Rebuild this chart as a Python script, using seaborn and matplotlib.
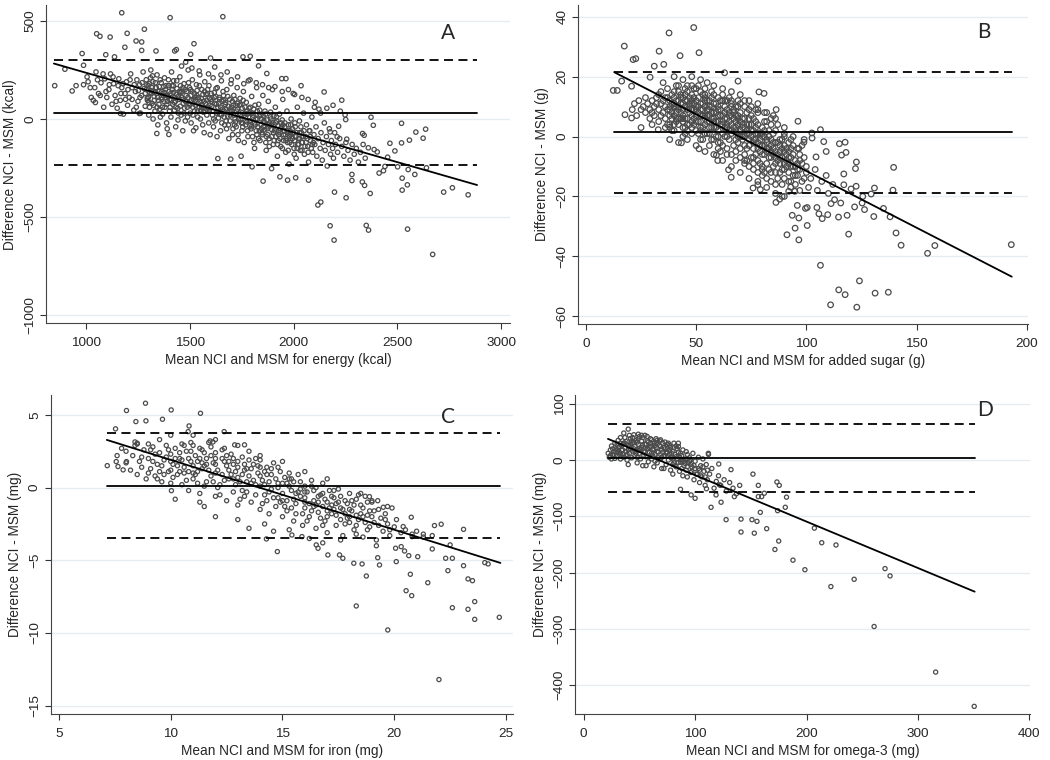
import matplotlib
matplotlib.use("Agg")
import pandas as pd
import matplotlib.pyplot as plt
import seaborn as sns

sns.set_theme(style="white")
plt.rcParams['font.family'] = ['Liberation Sans', 'DejaVu Sans']

# %% data (mean of NCI and MSM, difference NCI - MSM)

# A: energy (kcal)
energy_pts = [
    (1172, 542), (1405, 517), (1659, 522), (1051, 435), (1067, 422), (1116, 418), (1198, 437),
    (1281, 458), (1241, 398), (1268, 393), (1520, 384), (1187, 366), (981, 334), (1095, 328),
    (1268, 350), (1337, 347), (1427, 347), (1435, 354), (1137, 317), (1504, 330), (1600, 311),
    (1756, 317), (1791, 320), (1831, 271), (1871, 232), (1943, 206), (1963, 206), (2036, 170),
    (849, 170), (898, 254), (988, 274), (952, 170), (988, 175), (933, 143), (1045, 84), (1166, 28),
    (1257, 28), (1341, -74), (1399, -79), (1635, -202), (1697, -205), (1747, -190), (1800, -244),
    (1853, -317), (1894, -253), (1934, -295), (1971, -312), (2010, -300), (2072, -312), (2104, 85),
    (2147, 138), (2232, 96), (2248, 21), (2251, -3), (2373, 9), (2384, -32), (2520, -22),
    (2589, -67), (2636, -52), (2624, -98), (2558, -108), (2520, -122), (2464, -124), (2488, -163),
    (2453, -195), (2403, -168), (2388, -156), (2360, -147), (2412, -276), (2433, -264),
    (2440, -242), (2501, -244), (2523, -302), (2552, -258), (2584, -283), (2640, -249),
    (2281, -283), (2281, -314), (2331, -321), (2342, -339), (2369, -380), (2523, -363),
    (2548, -336), (2723, -373), (2765, -351), (2841, -387), (2197, -373), (2253, -402),
    (2117, -439), (2131, -424), (2176, -545), (2195, -618), (2350, -543), (2361, -567),
    (2549, -562), (2670, -691), (2332, -74), (2340, -83), (2256, -103), (2210, -91), (2176, -66),
    (2217, -37),
    (1005, 215), (1020, 160), (1035, 95), (1048, 240), (1060, 130), (1072, 185), (1085, 60),
    (1090, 205), (1100, 110), (1110, 150), (1118, 230), (1125, 75), (1133, 180), (1140, 120),
    (1150, 55), (1158, 205), (1165, 95), (1172, 160), (1180, 25), (1188, 130), (1195, 190),
    (1200, 70), (1208, 110), (1215, 230), (1222, 160), (1230, 45), (1238, 140), (1245, 200),
    (1250, 90), (1258, 175), (1262, 30), (1268, 120), (1275, 240), (1280, 155), (1285, 65),
    (1290, 200), (1295, 105), (1300, 170), (1302, 20), (1308, 135), (1312, 250), (1318, 80),
    (1322, 190), (1328, 115), (1332, 40), (1338, 160), (1342, 225), (1348, 95), (1352, 140),
    (1358, 10), (1362, 185), (1368, 60), (1372, 120), (1378, 210), (1382, 150), (1388, -20),
    (1392, 90), (1398, 170), (1402, 40), (1408, 130), (1412, 240), (1418, 75), (1422, 195),
    (1428, 110), (1432, -40), (1438, 155), (1442, 55), (1448, 100), (1452, 215), (1458, 20),
    (1462, 140), (1468, 80), (1472, 180), (1478, -10), (1482, 120), (1488, 60), (1492, 250),
    (1498, 160), (1502, 30), (1508, 95), (1512, 200), (1518, -60), (1522, 130), (1528, 70),
    (1532, 175), (1538, 10), (1542, 110), (1548, 225), (1552, 45), (1558, 150), (1562, -30),
    (1568, 90), (1572, 190), (1578, 125), (1582, 20), (1588, 60), (1592, 170), (1598, -80),
    (1602, 100), (1608, 40), (1612, 210), (1618, 135), (1622, -10), (1628, 75), (1632, 160),
    (1638, 5), (1642, 110), (1648, -60), (1652, 195), (1658, 50), (1662, 120), (1668, -30),
    (1672, 85), (1678, 150), (1682, 15), (1688, -100), (1692, 100), (1698, 180), (1702, 40),
    (1708, -50), (1712, 120), (1718, 0), (1722, 70), (1728, 160), (1732, -80), (1738, 30),
    (1742, 105), (1748, -20), (1752, 55), (1758, 140), (1762, -120), (1768, 10), (1772, 85),
    (1778, -60), (1782, 195), (1788, 30), (1792, -10), (1798, 115), (1802, -90), (1808, 50),
    (1812, -150), (1818, 0), (1822, 160), (1828, -40), (1832, 75), (1838, -110), (1842, 20),
    (1848, -70), (1852, 120), (1858, -20), (1862, 40), (1868, -160), (1872, -50), (1878, 90),
    (1882, -100), (1888, 10), (1892, -30), (1898, 150), (1902, -130), (1908, -60), (1912, 60),
    (1918, -10), (1922, -190), (1928, -80), (1932, 25), (1938, -140), (1942, -40), (1948, 100),
    (1952, -110), (1958, -20), (1962, -170), (1968, 40), (1972, -70), (1978, -230), (1982, -120),
    (1988, 0), (1992, -90), (1998, 130), (2002, -150), (2008, -40), (2012, -200), (2018, 60),
    (2022, -100), (2028, -10), (2032, -160), (2038, -70), (2042, -120), (2048, 30), (2052, -180),
    (2058, -90), (2062, -30), (2068, -140), (2072, -220), (2078, -60), (2082, -110), (2088, 10),
    (2092, -170), (2098, -80), (2102, -130), (2108, -40), (2112, -190), (2118, -100), (2122, 50),
    (2128, -150), (2132, -70), (2138, -210), (2142, -120), (2148, -20), (2152, -160), (2158, -90),
    (2162, -240), (2168, -130), (2172, -50), (2178, -180), (2182, -110), (2188, -150),
    (2192, -200), (2198, -70), (2202, -130), (2212, -170), (2222, -100), (2232, -140),
    (2242, -190), (2252, -120), (2262, -160), (2272, -210), (2282, -130), (2292, -180),
    (2302, -150), (2312, -220), (2322, -170), (2335, -130), (2345, -200),
    (1290, 150), (1296, 95), (1305, 180), (1315, 130), (1325, 70), (1335, 160), (1345, 110),
    (1355, 50), (1365, 140), (1375, 90), (1385, 170), (1395, 115), (1405, 60), (1415, 150),
    (1425, 85), (1435, 125), (1445, 30), (1455, 170), (1465, 100), (1475, 55), (1485, 140),
    (1495, 80), (1505, 120), (1515, 20), (1525, 95), (1535, 145), (1545, 60), (1555, 105),
    (1565, 35), (1575, 80), (1585, 130), (1595, 45), (1605, 90), (1615, 0), (1625, 115),
    (1635, 60), (1645, 25), (1655, 90), (1665, 40), (1675, -10), (1685, 65), (1695, 20),
    (1705, 90), (1715, -30), (1725, 40), (1735, 0), (1745, 75), (1755, -40), (1765, 30),
    (1775, -15), (1785, 55), (1795, -50), (1805, 20), (1815, -30), (1825, 40), (1835, -60),
    (1845, 0), (1855, -40), (1865, 25), (1875, -80), (1885, -20), (1895, -55), (1905, 15),
    (1915, -90), (1925, -35), (1935, -70), (1945, -5), (1955, -60), (1965, -100), (1975, -30),
    (1985, -80), (1995, -50), (2005, -110), (2015, -70), (2025, -130), (2035, -40), (2045, -90),
    (2055, -140), (2065, -100), (2075, -60), (2085, -150), (2095, -120), (1270, 185), (1260, 110),
    (1252, 145), (1242, 60), (1232, 175), (1222, 100), (1212, 200), (1202, 150), (1190, 100),
    (1178, 180), (1168, 130), (1155, 170), (1145, 90), (1130, 215), (1112, 175), (1096, 140),
    (1082, 230), (1068, 120), (1055, 200), (1042, 160), (1025, 110), (1010, 190),
    (1460, 270), (1480, 290), (1510, 260), (1545, 245), (1590, 230), (1620, 265), (1650, 225),
    (1680, 240), (1700, 200), (1730, 215), (1760, 180), (1790, 200), (1820, 185), (1850, 175),
    (1880, 160), (1910, 165), (1945, 140), (1975, 150), (2005, 125), (2040, 110), (2070, 100),
    (2100, 60), (2130, 30), (2160, 55), (2190, 70), (2225, 40),
    (1300, 110), (1306, 60), (1311, 210), (1317, 160), (1323, 0), (1329, 95), (1334, 185),
    (1340, 130), (1346, -30), (1351, 75), (1357, 200), (1363, 110), (1369, 25), (1374, 165),
    (1380, 60), (1386, 120), (1391, -50), (1397, 200), (1403, 100), (1409, 10), (1414, 170),
    (1420, 135), (1426, 45), (1431, 90), (1437, 195), (1443, -5), (1449, 140), (1454, 65),
    (1460, 110), (1466, -60), (1471, 30), (1477, 150), (1483, 90), (1489, 10), (1494, 185),
    (1500, 70), (1506, -20), (1511, 140), (1517, 100), (1523, 40), (1529, -45), (1534, 120),
    (1540, 80), (1546, 170), (1551, 0), (1557, 60), (1563, 125), (1569, -70), (1574, 40),
    (1580, 95), (1586, 150), (1591, -20), (1597, 70), (1603, 130), (1609, 20), (1614, -40),
    (1620, 80), (1626, 155), (1631, -90), (1637, 35), (1643, 100), (1649, 60), (1654, -20),
    (1660, 140), (1666, 10), (1671, 75), (1677, -50), (1683, 115), (1689, 40), (1694, -10),
    (1700, 60), (1706, -80), (1711, 20), (1717, 100), (1723, -40), (1729, 50), (1734, -110),
    (1740, 70), (1746, -5), (1751, -60), (1757, 95), (1763, 20), (1769, -30), (1774, 40),
    (1780, -90), (1786, -10), (1791, 60), (1797, -40), (1803, 10), (1809, -120), (1814, 70),
    (1820, -60), (1826, 0), (1831, -100), (1837, 45), (1843, -30), (1849, -80), (1854, 15),
    (1860, -55), (1866, -120), (1871, -5), (1877, -40), (1883, -140), (1889, 35), (1894, -90),
    (1900, -20), (1906, -110), (1912, -50), (1917, 10), (1923, -130), (1929, -60), (1934, -100),
    (1940, -20), (1946, -150), (1951, -80), (1957, -40), (1963, -110), (1969, -60), (1974, -160),
    (1980, -90), (1986, -30), (1991, -130), (1997, -70), (2003, -180), (2010, -90), (2020, -130),
    (2030, -100), (2040, -160), (2050, -60), (2060, -120), (2070, -170), (2080, -90), (2090, -130),
    (1285, 130), (1293, 175), (1303, 85), (1313, 145), (1320, 220), (1330, 135), (1343, 60),
    (1353, 165), (1366, 100), (1377, 135), (1389, 75), (1400, 140), (1410, 95), (1421, 170),
    (1433, 60), (1444, 115), (1456, 135), (1467, 160), (1479, 90), (1491, 110), (1503, 150),
    (1514, 60), (1526, 110), (1537, 40), (1549, 90), (1560, 70), (1571, 140), (1583, 50),
    (1594, 105), (1606, 65), (1617, 110), (1629, 30), (1640, 80), (1652, 20), (1663, 95),
    (1675, 50), (1686, -30), (1697, 45), (1709, 70), (1720, -15), (1731, 80), (1743, 20),
    (1754, -20), (1766, 60), (1777, 25), (1789, -35), (1800, 30), (1811, -20), (1823, -80),
    (1834, 15), (1846, -50), (1857, -10), (1869, -90), (1880, -30), (1891, 0), (1903, -70),
    (1914, -20), (1926, -110), (1937, -50), (1949, -30), (1960, -80), (1971, -120), (1983, -60),
    (1994, -100), (2006, -20), (2017, -150), (2029, -70), (2040, -120),
]
energy_mean_diff = 31
energy_loa = [303, -237]
energy_fit_x = [845, 2884]
energy_fit_y = [283, -337]
energy_xticks = [1000, 1500, 2000, 2500, 3000]
energy_yticks = [500, 0, -500, -1000]

# B: added sugar (g)
sugar_pts = [
    (48.9, 36.4), (37.7, 34.6), (17.4, 30.2), (33.2, 28.5), (51.3, 28.0), (42.7, 27.0),
    (21.4, 25.7), (22.6, 26.0), (12.4, 15.4), (14.2, 15.4), (16.2, 18.5), (20.7, 16.8),
    (20.7, 6.2), (29.1, 19.8), (31.0, 23.5), (35.3, 24.1), (62.9, 21.3), (69.0, 18.5),
    (78.5, 14.9), (80.8, 14.4), (86.3, 9.0), (96.2, 5.1), (106.4, 2.3), (102.5, 1.2),
    (107.9, -1.7), (109.0, -5.0), (115.0, -2.4), (117.6, -1.9), (116.0, -6.2), (118.0, -5.3),
    (122.7, -8.5), (122.3, -10.7), (139.6, -10.3), (98.9, -1.9), (102.6, -0.5), (104.4, -6.8),
    (96.6, -4.0), (117.0, -12.5), (117.0, -16.1), (120.3, -17.5), (122.6, -16.6),
    (125.6, -20.0), (130.9, -17.2), (129.4, -19.2), (125.3, -22.2), (126.4, -24.4),
    (121.9, -23.5), (135.0, -24.0), (138.0, -26.8), (140.7, -32.2), (143.0, -36.3),
    (139.3, -17.9), (130.6, -26.7), (114.6, -26.9), (118.5, -26.3), (119.2, -32.6),
    (112.8, -21.1), (115.6, -22.2), (111.2, -22.4), (105.7, -25.8), (107.2, -27.4),
    (109.7, -26.1), (104.8, -23.7), (100.4, -29.7), (100.4, -23.7), (99.6, -24.0),
    (96.6, -27.2), (96.6, -34.5), (94.9, -30.6), (93.6, -26.3), (95.9, -23.0), (91.2, -32.8),
    (106.4, -43.0), (114.7, -51.2), (117.6, -52.8), (111.0, -56.2), (124.1, -48.2),
    (122.9, -57.0), (131.2, -52.3), (137.2, -52.0), (158.3, -36.4), (155.0, -39.0),
    (193.0, -36.1), (86.2, -22.0), (87.9, -20.9), (89.0, -20.0), (92.0, -18.3), (92.9, -16.9),
    (94.8, -18.3), (75.8, -17.2), (79.1, -17.7), (78.0, -16.1), (65.9, -13.6), (64.7, -11.1),
    (59.2, -6.2), (59.8, -8.0), (51.3, -4.1), (43.3, -2.1), (38.0, 3.1), (32.8, 2.3), (17.7, 7.3),
    (21, 9), (22, 11), (23, 7), (24, 12), (25, 9), (26, 10), (27, 8), (27, 13), (28, 11), (29, 6),
    (29, 9), (30, 12), (31, 10), (31, 7), (32, 13), (33, 9), (33, 5), (34, 11), (34, 15), (35, 8),
    (35, 12), (36, 10), (36, 6), (37, 13), (37, 16), (38, 9), (38, 4), (39, 11), (39, 14), (40, 7),
    (40, 10), (41, 12), (41, 5), (42, 15), (42, 9), (43, 8), (43, 11), (44, 3), (44, 13), (45, 10),
    (45, 6), (46, 12), (46, 17), (47, 8), (47, 4), (48, 11), (48, 14), (49, 6), (49, 9), (50, 12),
    (50, 2), (51, 8), (51, 5), (52, 11), (52, 15), (53, 7), (53, 3), (54, 10), (54, 13), (55, 5),
    (55, 1), (56, 9), (56, 12), (57, 6), (57, -1), (58, 8), (58, 3), (59, 11), (59, 5), (60, 2),
    (60, 7), (61, 9), (61, -2), (62, 4), (62, 12), (63, 6), (63, 0), (64, 3), (64, 9), (65, -1),
    (65, 5), (66, 7), (66, 1), (67, 3), (67, -3), (68, 5), (68, 10), (69, 0), (69, 4), (70, -4),
    (70, 2), (71, 6), (71, -1), (72, 3), (72, -6), (73, 1), (73, 8), (74, -3), (74, 4), (75, -7),
    (75, 0), (76, 2), (76, -4), (77, -1), (77, 5), (78, -8), (78, -2), (79, 1), (79, -5), (80, -3),
    (80, 3), (81, -6), (81, 0), (82, -9), (82, -2), (83, -4), (83, 2), (84, -7), (84, -1),
    (85, -10), (85, -4), (86, -2), (86, -12), (87, -6), (88, -9), (88, -3), (89, -11), (90, -5),
    (90, -14), (91, -8), (92, -2), (92, -12), (93, -10), (94, -6), (95, -13), (95, -16), (96, -9),
    (97, -11), (98, -15), (99, -7), (100, -12), (101, -17), (102, -14), (104, -11), (105, -18),
    (107, -15), (109, -13), (110, -19), (112, -16),
    (25, 3), (30, 4), (35, 18), (40, 20), (44, 19), (48, 20), (52, 19), (55, 18), (58, 17),
    (62, 16), (66, 15), (70, 14), (74, 12), (78, 11), (82, 8), (86, 6), (90, 3), (94, 0), (98, -3),
    (38, -1), (42, -2), (46, -1), (50, -3), (54, -5), (58, -6), (62, -8), (66, -10), (70, -12),
    (74, -14), (78, -15), (82, -17), (86, -19), (90, -20),
    (38, 7), (40, 13), (42, 6), (44, 9), (46, 4), (48, 7), (50, 9), (52, 5), (54, 7), (56, 3),
    (58, 5), (60, 10), (62, 1), (64, 6), (66, 4), (68, 2), (70, 8), (72, 0), (74, 1), (76, 6),
    (78, -4), (80, 0), (82, -5), (84, -3), (86, -7), (88, -5), (90, -9), (92, -7), (94, -10),
    (96, -4), (39, 2), (41, 8), (43, 14), (45, 1), (47, 11), (49, 13), (51, 1), (53, 14), (55, 9),
    (57, 10), (59, 0), (61, 4), (63, 10), (65, 8), (67, 9), (69, -2), (71, 3), (73, -4), (75, 4),
    (77, -6), (79, -9), (81, 5), (83, -11), (85, 1), (87, -14), (89, -1), (91, -4), (93, -15),
    (97, -18), (99, -1),
    (30, 8), (32, 11), (34, 7), (36, 13), (37, 9), (38, 12), (39, 6), (40, 15), (41, 10), (42, 12),
    (43, 6), (44, 11), (45, 14), (46, 9), (47, 13), (48, 5), (49, 11), (50, 7), (51, 13), (52, 9),
    (53, 11), (54, 4), (55, 12), (56, 7), (57, 3), (58, 11), (59, 8), (60, 5), (61, 12), (62, 7),
    (63, 3), (64, 12), (65, 2), (66, 10), (67, 6), (68, -1), (69, 7), (70, 5), (71, 0), (72, 10),
    (73, 4), (74, -1), (75, 7), (76, -2), (77, 3), (78, 1), (79, -3), (80, -6), (81, 2), (82, -1),
    (83, -7), (84, 4), (85, -6), (86, -9), (87, -2), (88, -7), (89, -4), (90, -11), (91, -6),
    (92, -9), (93, -4), (94, -13), (95, -8), (96, -11), (97, -6), (98, -9), (99, -14), (100, -10),
    (44, 6), (48, 9), (52, 2), (56, 5), (60, 0), (64, 0), (68, 7), (72, -3), (76, -7), (80, -10),
    (84, -12), (88, -12), (92, -15), (36, 3), (40, 4), (44, 0), (48, 1), (52, -1), (56, -3),
    (60, -4), (64, -6), (68, -8), (72, -9), (76, -11), (80, -13), (46, 15), (50, 16), (54, 16),
    (58, 14), (62, 14), (66, 12), (70, 11), (74, 9), (78, 8), (82, 5), (86, 2), (90, 0), (33, 14),
    (37, 4), (41, 17), (45, 3), (49, 16), (53, -1), (57, 15), (61, -5), (65, 13), (69, 10),
    (73, -8), (77, 9), (81, -12), (85, 7), (89, -16), (93, -1),
    (38, 10), (39, 8), (40, 11), (41, 6), (42, 10), (43, 13), (44, 7), (45, 12), (46, 6), (47, 10),
    (48, 12), (49, 4), (50, 10), (51, 10), (52, 7), (53, 9), (54, 12), (55, 7), (56, 10), (57, 8),
    (58, 6), (59, 3), (60, 9), (61, 7), (62, 5), (63, 8), (64, 4), (65, 7), (66, 2), (67, 8),
    (68, 3), (69, 6), (70, 0), (71, 4), (72, 6), (73, 2), (74, 6), (75, 2), (76, -1), (77, 1),
    (78, 4), (79, -1), (80, 1), (81, -3), (82, -4), (83, 0), (84, -5), (85, -2), (86, -5),
    (87, -8), (88, -1), (89, -7), (90, -3), (91, -10), (92, -5), (93, -7), (94, -3), (95, -10),
    (96, -13), (97, -8), (40, 2), (42, 4), (44, 5), (46, 2), (48, 3), (50, 5), (52, 3), (54, 1),
    (56, 1), (58, -1), (60, -2), (62, -3), (64, -4), (66, -6), (68, -5), (70, -7), (72, -8),
    (74, -10), (76, -9), (78, -12), (80, -11), (82, -14), (84, -15), (86, -16), (42, 17),
    (45, 16), (48, 17), (51, 17), (54, 14), (57, 13), (60, 13), (63, 12), (66, 11), (69, 12),
    (72, 12), (75, 10), (78, 9), (81, 8), (84, 6), (87, 4), (90, 1),
]
sugar_mean_diff = 1.5
sugar_loa = [21.7, -18.7]
sugar_fit_x = [12.8, 193.2]
sugar_fit_y = [21.5, -46.8]
sugar_xticks = [0, 50, 100, 150, 200]
sugar_yticks = [40, 20, 0, -20, -40, -60]

# C: iron (mg)
iron_pts = [
    (8.87, 5.80), (8.02, 5.30), (10.02, 5.34), (11.33, 5.11), (8.44, 4.54), (8.89, 4.59),
    (9.63, 4.70), (7.53, 4.04), (7.16, 1.51), (10.82, 4.24), (10.78, 3.85), (12.39, 3.85),
    (11.76, 3.21), (11.89, 3.14), (12.86, 2.94), (13.30, 2.94), (8.40, 3.14), (8.50, 3.05),
    (7.56, 1.79), (7.64, 1.45), (8.02, 1.79), (7.87, 1.22), (10.03, -0.21), (11.30, -1.00),
    (14.28, -3.53), (14.77, -4.40), (15.42, -3.26), (15.87, -3.37), (16.51, -3.94),
    (16.59, -4.17), (17.03, -4.63), (17.55, -4.63), (17.70, -4.86), (18.19, -5.20),
    (18.56, -5.25), (18.75, -6.08), (18.30, -8.14), (18.89, -0.62), (19.26, -0.90),
    (19.51, -1.35), (19.26, -4.82), (19.34, -5.32), (19.71, -9.79), (20.06, -4.17),
    (20.09, -5.09), (20.31, -4.06), (20.46, -4.36), (20.65, -4.68), (20.76, -2.04),
    (21.05, -4.75), (20.72, -5.96), (20.53, -7.09), (20.78, -7.43), (21.50, -6.54),
    (21.80, -2.61), (22.10, -2.52), (21.70, -4.22), (22.50, -3.94), (22.30, -4.86),
    (22.60, -4.86), (22.40, -5.71), (22.60, -8.26), (23.10, -5.37), (23.10, -2.87),
    (23.30, -6.28), (23.50, -6.40), (23.60, -7.84), (23.30, -8.37), (23.60, -9.06),
    (24.05, -5.16), (24.20, -5.25), (24.70, -8.92), (22.00, -13.20), (20.40, -2.68),
    (20.80, -3.37), (21.30, -3.20), (21.70, -3.30),
    (8.0, 2.5), (8.2, 1.2), (8.4, 2.9), (8.5, 0.9), (8.6, 1.8), (8.8, 2.6), (8.9, 0.6), (9.0, 2.0),
    (9.1, 1.3), (9.2, 2.8), (9.3, 0.8), (9.4, 1.6), (9.5, 2.4), (9.6, 0.4), (9.7, 1.9), (9.8, 2.9),
    (9.9, 1.1), (10.0, 2.3), (10.0, 0.3), (10.1, 1.6), (10.2, 2.7), (10.3, 0.9), (10.4, 2.0),
    (10.5, 3.0), (10.5, 0.2), (10.6, 1.4), (10.7, 2.5), (10.8, -0.2), (10.9, 1.8), (11.0, 2.9),
    (11.0, 0.6), (11.1, 2.2), (11.2, 1.1), (11.3, -0.4), (11.4, 2.6), (11.5, 1.5), (11.5, 0.1),
    (11.6, 2.0), (11.7, 3.1), (11.8, 0.8), (11.9, 1.7), (12.0, -0.6), (12.0, 2.4), (12.1, 1.2),
    (12.2, 0.2), (12.3, 2.0), (12.4, 2.7), (12.5, -0.9), (12.5, 1.5), (12.6, 0.6), (12.7, 2.3),
    (12.8, -0.3), (12.9, 1.1), (13.0, 1.8), (13.0, -1.2), (13.1, 0.4), (13.2, 2.1), (13.3, -0.6),
    (13.4, 1.3), (13.5, 0.8), (13.5, 2.5), (13.6, -1.0), (13.7, 1.6), (13.8, 0.2), (13.9, 1.0),
    (14.0, -1.5), (14.0, 1.9), (14.1, 0.5), (14.2, -0.5), (14.3, 1.4), (14.4, -1.8), (14.5, 0.9),
    (14.5, -0.1), (14.6, 1.7), (14.7, -1.3), (14.8, 0.3), (14.9, 1.1), (15.0, -2.0), (15.0, -0.4),
    (15.1, 0.7), (15.2, -1.6), (15.3, 1.0), (15.4, -0.2), (15.5, -2.3), (15.5, 0.4), (15.6, -1.1),
    (15.7, 0.9), (15.8, -0.6), (15.9, -2.6), (16.0, 0.1), (16.0, -1.4), (16.1, -0.3), (16.2, -2.0),
    (16.3, 0.5), (16.4, -0.9), (16.5, -2.8), (16.5, 0.0), (16.6, -1.7), (16.7, -0.5), (16.8, 0.3),
    (16.9, -2.3), (17.0, -1.0), (17.0, -3.1), (17.1, -0.2), (17.2, -1.8), (17.3, -0.7),
    (17.4, -2.6), (17.5, -0.1), (17.6, -1.4), (17.7, -3.3), (17.8, -0.9), (17.9, -2.1),
    (18.0, -0.4), (18.1, -1.6), (18.2, -2.9), (18.3, -0.8), (18.4, -2.2), (18.5, -1.2),
    (18.6, -3.4), (18.7, -0.6), (18.8, -1.9), (18.9, -2.7), (19.0, -1.0), (19.1, -2.4),
    (19.2, -3.6), (19.3, -1.5), (19.4, -2.1), (19.5, -3.0), (19.6, -1.8), (19.7, -2.5),
    (19.8, -3.3), (19.9, -1.4), (20.0, -2.7), (20.1, -2.2), (20.3, -3.1), (20.5, -2.9),
    (20.8, -3.2), (21.0, -3.0), (21.3, -3.4),
    (9.0, 1.0), (9.5, 1.1), (10.0, 1.2), (10.5, 1.9), (11.0, 1.5), (11.5, 2.4), (12.0, 1.6),
    (12.5, 2.2), (13.0, 0.7), (13.5, 1.9), (14.0, 0.1), (14.5, 1.3), (15.0, 0.3), (15.5, -0.8),
    (16.0, -0.7), (16.5, -1.2), (17.0, -2.0), (17.5, -1.0), (18.0, -2.4), (18.5, -1.8),
    (19.0, -2.0), (8.7, 2.1), (9.8, 2.1), (10.9, 2.5), (11.2, 0.3), (11.8, 2.8), (12.2, -0.5),
    (12.7, 0.9), (13.2, -0.2), (13.7, 0.5), (14.2, 1.1), (14.7, 0.6), (15.2, -0.9), (15.7, -0.3),
    (16.2, -1.1), (16.7, -2.1), (17.2, -0.6), (17.7, -1.5), (18.2, -1.2), (18.7, -2.4),
    (10.3, 1.5), (10.7, 0.5), (11.3, 2.0), (11.7, 1.2), (12.3, 0.9), (12.8, 1.6), (13.3, 1.2),
    (13.8, -0.5), (14.3, -0.9), (14.8, -0.7), (15.3, 0.1), (15.8, 0.4), (16.3, -1.6),
    (16.8, -1.3), (17.3, -1.5), (17.8, -2.5), (18.3, -1.9), (18.8, -1.0), (9.3, 2.3), (9.7, 0.9),
    (10.2, 2.0), (10.8, 1.1), (11.4, 1.7), (11.9, 0.4), (12.4, 1.8), (12.9, 0.2), (13.4, 0.4),
    (13.9, 1.5), (14.4, 0.4), (14.9, -1.0), (15.4, 0.6), (15.9, -1.8), (16.4, -0.2), (16.9, -0.8),
    (17.4, -1.9), (17.9, -1.1), (18.4, -0.5), (18.9, -1.6),
    (12.0, -2.0), (13.5, -2.8), (14.2, -2.5), (14.6, -3.0), (15.3, -2.9), (16.2, -3.5),
    (16.8, -3.8), (17.6, -3.6), (18.3, -3.2), (19.2, -4.0), (13.0, -2.2), (11.5, -1.3),
    (10.2, -0.8), (17.0, 0.6), (16.0, 1.1), (15.0, 1.8), (14.0, 2.2), (13.0, 2.9), (12.0, 3.3),
    (11.0, 3.6), (10.0, 3.6), (9.5, 3.3), (9.0, 3.0), (8.5, 3.0), (7.8, 2.7), (8.0, 1.7),
    (7.6, 2.2), (18.5, -0.4), (19.0, -0.9), (19.7, -1.3),
    (8.3, 2.2), (8.7, 1.4), (9.1, 2.6), (9.4, 0.6), (9.9, 2.6), (10.1, 0.7), (10.4, 2.4),
    (10.6, 1.0), (10.9, 3.1), (11.1, 0.9), (11.3, 2.7), (11.6, 0.4), (11.8, 2.2), (12.1, 0.0),
    (12.3, 2.6), (12.6, 1.2), (12.8, 2.0), (13.1, -0.8), (13.3, 1.6), (13.6, 0.3), (13.8, 2.0),
    (14.1, -1.1), (14.3, 0.9), (14.6, -0.7), (14.8, 1.4), (15.1, -1.3), (15.3, 0.6), (15.6, -1.8),
    (15.8, -0.1), (16.1, -2.3), (16.3, 0.1), (16.6, -1.0), (16.8, -2.6), (17.1, -1.4),
    (17.3, -0.2), (17.6, -2.2), (17.8, -1.8), (18.1, -0.9), (18.3, -2.6), (18.6, -1.4),
    (18.8, -2.9), (19.1, -1.6), (19.3, -2.6), (19.6, -2.2), (19.8, -2.9), (10.4, 1.1), (10.8, 2.0),
    (11.2, 1.8), (11.6, 1.6), (12.0, 1.0), (12.4, 0.5), (12.8, 0.6), (13.2, 0.9), (13.6, 1.3),
    (14.0, 0.8), (14.4, -0.3), (14.8, 0.0), (15.2, 0.3), (15.6, -0.4), (16.0, -1.0), (16.4, -1.3),
    (16.8, -0.4), (17.2, -1.2), (17.6, -0.6), (18.0, -1.5), (9.6, 1.5), (10.0, 1.8), (11.0, 1.0),
    (12.0, 2.0), (13.0, 1.4), (14.0, 1.4), (15.0, -0.9), (16.0, -0.3), (17.0, -1.6), (18.0, -2.0),
    (9.2, 1.8), (10.6, 2.9), (11.4, 1.3), (12.6, 1.8), (13.4, -0.3), (14.2, 0.2), (15.4, -1.4),
    (16.6, -0.6), (17.4, -1.1), (18.6, -2.0),
]
iron_mean_diff = 0.14
iron_loa = [3.78, -3.48]
iron_fit_x = [7.14, 24.75]
iron_fit_y = [3.28, -5.18]
iron_xticks = [5, 10, 15, 20, 25]
iron_yticks = [5, 0, -5, -10, -15]

# D: omega-3 (mg)
omega_pts = [
    (350.4, -438), (315.8, -377), (260.6, -296), (270.4, -193), (274.9, -206), (242.7, -212),
    (221.8, -225), (198.5, -195), (187.8, -178), (226.4, -151), (213.6, -147), (207.0, -121),
    (171.6, -159), (175.0, -144), (180.9, -84), (182.0, -66), (175.5, -45), (173.4, -39),
    (174.0, -90), (153.1, -130), (141.2, -128), (127.8, -106), (141.2, -105), (151.0, -106),
    (155.5, -109), (158.5, -93), (151.9, -25), (156.7, -45), (156.7, -65), (159.7, -65),
    (162.1, -59), (164.2, -122), (114.3, -84), (121.8, -44), (132.2, -17), (100.0, -68),
    (96.4, -62), (86.9, -52), (110.2, -51), (121.2, -7), (111.9, 12), (135.2, -65),
    (123.3, -75), (118.8, -62),
    (22, 12), (23, 5), (24, 18), (25, 2), (25, 25), (26, 10), (27, 15), (28, 30), (28, 3),
    (29, 20), (30, 8), (31, 35), (31, 14), (32, 24), (33, 2), (33, 40), (34, 18), (35, 10),
    (35, 28), (36, 48), (36, 5), (37, 22), (38, 15), (38, 33), (39, 0), (40, 26), (40, 55),
    (41, 12), (42, 38), (42, 20), (43, 4), (44, 30), (44, 16), (45, 45), (46, 8), (46, 24),
    (47, 35), (48, -5), (48, 18), (49, 28), (50, 12), (50, 42), (51, 2), (52, 22), (52, 34),
    (53, -10), (54, 16), (55, 28), (55, 44), (56, 6), (57, 20), (58, 32), (58, -3), (59, 14),
    (60, 24), (60, 38), (61, 2), (62, 18), (63, -12), (63, 30), (64, 10), (65, 22), (66, 35),
    (66, -5), (67, 14), (68, 26), (69, 2), (70, 18), (70, -15), (71, 30), (72, 8), (73, 20),
    (74, -8), (75, 14), (75, 28), (76, 0), (77, 10), (78, 22), (78, -18), (79, 4), (80, 16),
    (80, -25), (81, -5), (82, 10), (83, 25), (83, -12), (84, 2), (85, 14), (85, 30), (86, -20),
    (87, -4), (88, 8), (89, -28), (89, 18), (90, -10), (91, 2), (92, -18), (93, 10), (93, -30),
    (94, -5), (95, 4), (96, -22), (97, -12), (98, 12), (99, -35), (100, -2), (100, -15),
    (102, -25), (103, 5), (104, -40), (105, -10), (106, -30), (107, 2), (108, -20), (109, -45),
    (110, -8), (111, -35), (112, 10), (113, -25), (115, -15), (117, -50), (119, -38), (121, -28),
    (123, -45), (126, -35), (128, -55), (131, -40), (134, -50), (137, -60), (140, -45),
    (26, 20), (30, 18), (34, 26), (38, 8), (42, 28), (46, 16), (50, 20), (54, 8), (58, 20),
    (62, 8), (66, 15), (70, 5), (74, 12), (78, 5), (82, -10), (86, 5), (90, -2), (30, 28),
    (36, 30), (44, 40), (52, 44), (60, 30), (68, 34), (76, 30), (84, 20), (92, 15), (40, -8),
    (48, 5), (56, -10), (64, -2), (72, -15), (80, -8), (88, -15), (96, -8), (104, -18), (24, 8),
    (32, 10), (40, 18), (48, 32), (56, 28), (64, 26), (72, 22), (80, 2), (88, -2), (96, 0),
    (27, 8), (29, 14), (31, 22), (33, 12), (35, 18), (37, 30), (39, 10), (41, 24), (43, 34),
    (45, 20), (47, 12), (49, 38), (51, 18), (53, 26), (55, 14), (57, 34), (59, 22), (61, 12),
    (63, 20), (65, 30), (67, 4), (69, 24), (71, 14), (73, 8), (75, 20), (77, 18), (79, 12),
    (81, 22), (83, 6), (85, -4), (87, 12), (89, 0), (91, -6), (93, -12), (95, -2), (97, -20),
    (99, -10), (101, -25), (103, -15), (105, -28), (107, -12), (109, -30), (111, -18), (33, 30),
    (37, 40), (41, 44), (45, 32), (49, 46), (53, 40), (57, 42), (61, 36), (65, 38), (69, 36),
    (73, 32), (77, 26), (81, 30), (85, 24),
]
omega_mean_diff = 3.4
omega_loa = [64.4, -56.6]
omega_fit_x = [21.8, 350.8]
omega_fit_y = [37.7, -234]
omega_xticks = [0, 100, 200, 300, 400]
omega_yticks = [100, 0, -100, -200, -300, -400]

# %%
fig = plt.figure(figsize=(10.5, 7.6), dpi=100)


def bland_altman(rect, pts, mean_diff, loa, fit_x, fit_y, xlim, ylim, xticks, yticks,
                 xlabel, ylabel, letter, letter_xy, size):
    ax = fig.add_axes(rect)
    df = pd.DataFrame(pts, columns=['mean', 'diff'])
    ax.grid(axis='y', color='#e4edf0', lw=1.0)
    ax.set_axisbelow(True)
    sns.scatterplot(data=df, x='mean', y='diff', ax=ax, s=size, marker='o',
                    facecolor='none', edgecolor='#4b4b4b', linewidth=0.9, zorder=3)
    ax.plot(fit_x, [mean_diff, mean_diff], color='black', lw=1.3, zorder=4)
    for v in loa:
        ax.plot(fit_x, [v, v], color='black', lw=1.3, ls=(0, (5, 3)), zorder=4)
    ax.plot(fit_x, fit_y, color='black', lw=1.3, zorder=4)
    ax.set_xlim(xlim)
    ax.set_ylim(ylim)
    ax.set_xticks(xticks)
    ax.set_yticks(yticks)
    ax.set_xlabel(xlabel, fontsize=9.8, labelpad=3)
    ax.set_ylabel(ylabel, fontsize=9.8, labelpad=5)
    ax.tick_params(axis='both', direction='out', length=4, width=0.8, color='#333333',
                   labelsize=9.7, left=True, bottom=True)
    ax.tick_params(axis='x', pad=6)
    ax.tick_params(axis='y', pad=3, labelrotation=90)
    for lab in ax.get_yticklabels():
        lab.set_verticalalignment('center')
    for s in ['top', 'right']:
        ax.spines[s].set_visible(False)
    for s in ['left', 'bottom']:
        ax.spines[s].set_color('#444444')
        ax.spines[s].set_linewidth(0.8)
    ax.text(letter_xy[0], letter_xy[1], letter, transform=ax.transAxes, ha='center',
            va='center', fontsize=15, family=['Lato', 'DejaVu Sans'])
    return ax


bland_altman([0.0438, 0.575, 0.442, 0.418], energy_pts, energy_mean_diff, energy_loa,
             energy_fit_x, energy_fit_y, (807, 3043), (-1041, 580), energy_xticks, energy_yticks,
             'Mean NCI and MSM for energy (kcal)', 'Difference NCI - MSM (kcal)', 'A',
             (0.866, 0.912), 10)
bland_altman([0.5505, 0.5737, 0.4286, 0.42], sugar_pts, sugar_mean_diff, sugar_loa,
             sugar_fit_x, sugar_fit_y, (-3.6, 200.6), (-62.6, 44), sugar_xticks, sugar_yticks,
             'Mean NCI and MSM for added sugar (g)', 'Difference NCI - MSM (g)', 'B',
             (0.902, 0.914), 16)
bland_altman([0.0483, 0.0605, 0.44, 0.42], iron_pts, iron_mean_diff, iron_loa,
             iron_fit_x, iron_fit_y, (4.63, 25.3), (-15.57, 6.38), iron_xticks, iron_yticks,
             'Mean NCI and MSM for iron (mg)', 'Difference NCI - MSM (mg)', 'C',
             (0.859, 0.930), 9)
bland_altman([0.548, 0.0605, 0.433, 0.42], omega_pts, omega_mean_diff, omega_loa,
             omega_fit_x, omega_fit_y, (-7.4, 400.5), (-451.6, 116), omega_xticks, omega_yticks,
             'Mean NCI and MSM for omega-3 (mg)', 'Difference NCI - MSM (mg)', 'D',
             (0.90, 0.953), 9)

fig.savefig('out.png', dpi=100)
